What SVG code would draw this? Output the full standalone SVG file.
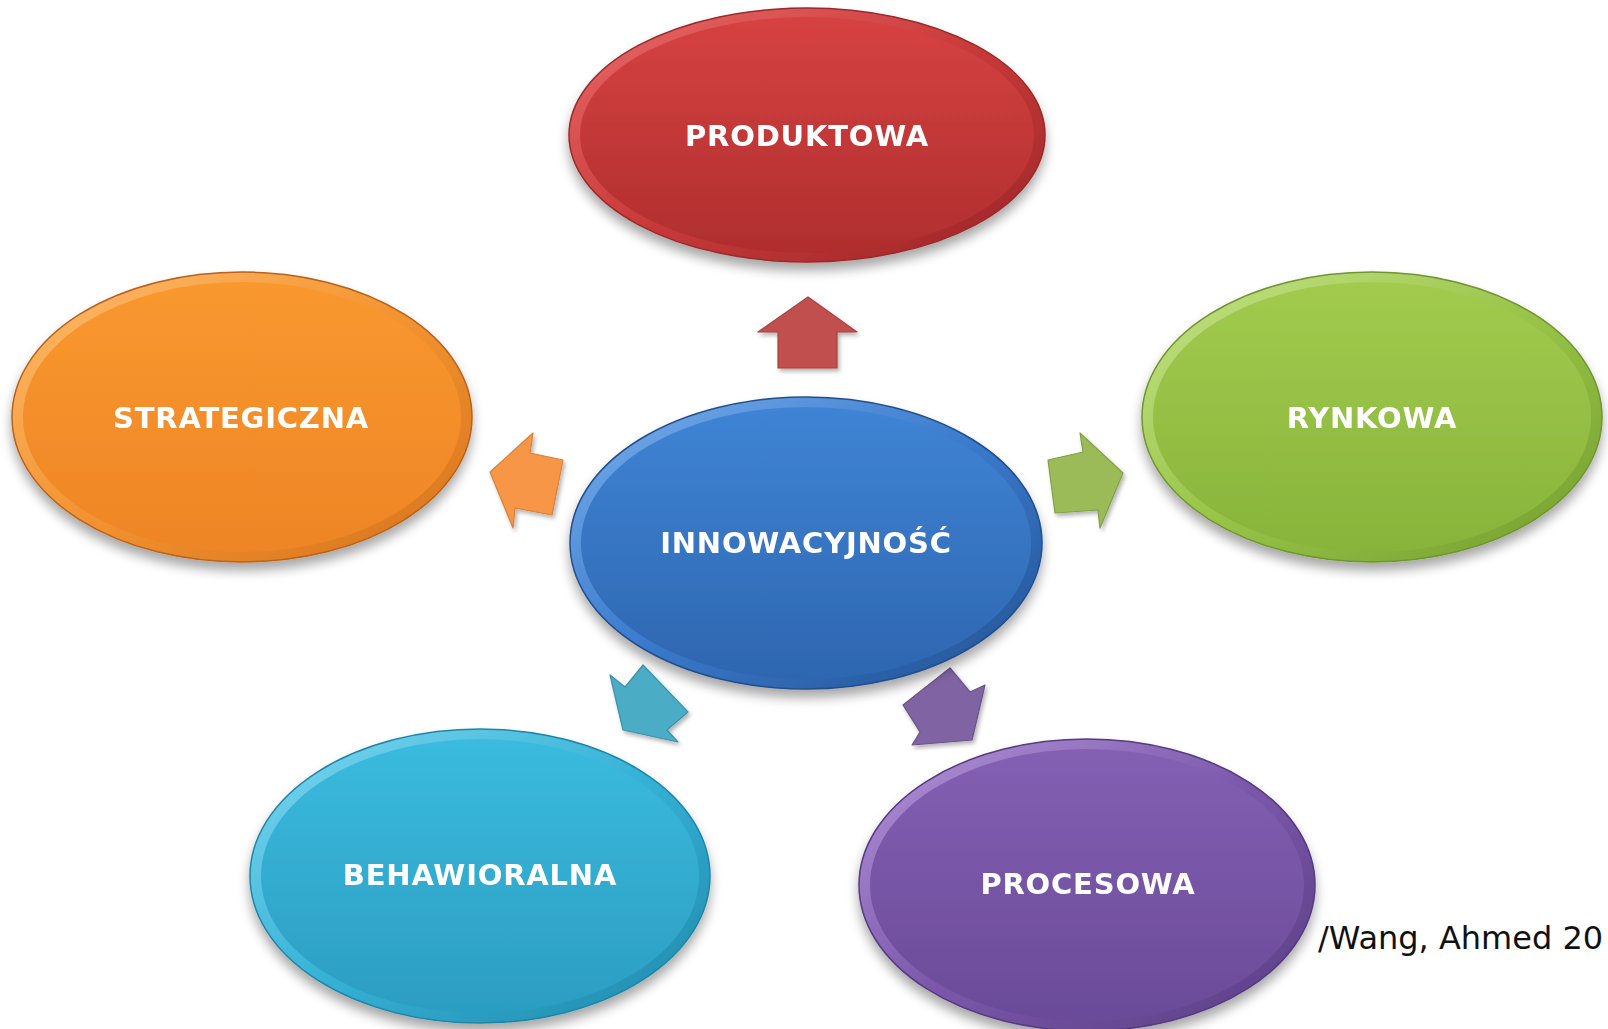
<svg xmlns="http://www.w3.org/2000/svg" width="1608" height="1029" viewBox="0 0 1608 1029">
<style>
.lbl{font-family:"DejaVu Sans","Verdana",sans-serif;font-weight:bold;font-size:29px;letter-spacing:0.8px;fill:#ffffff;text-anchor:middle;dominant-baseline:central;}
.src{font-family:"DejaVu Sans","Verdana",sans-serif;font-size:32px;fill:#111111;}
.arr{stroke-width:1.2;stroke-linejoin:round;}
</style>
<defs>
<filter id="sh" x="-20%" y="-20%" width="140%" height="150%">
<feGaussianBlur in="SourceAlpha" stdDeviation="6"/>
<feOffset dx="0" dy="8" result="b"/>
<feComponentTransfer><feFuncA type="linear" slope="0.35"/></feComponentTransfer>
<feMerge><feMergeNode/><feMergeNode in="SourceGraphic"/></feMerge>
</filter>
<filter id="ash" x="-30%" y="-30%" width="160%" height="160%">
<feGaussianBlur in="SourceAlpha" stdDeviation="2"/>
<feOffset dx="2" dy="3"/>
<feComponentTransfer><feFuncA type="linear" slope="0.3"/></feComponentTransfer>
<feMerge><feMergeNode/><feMergeNode in="SourceGraphic"/></feMerge>
</filter>
<linearGradient id="gRed" x1="0" y1="0" x2="0" y2="1"><stop offset="0" stop-color="#d64242"/><stop offset="1" stop-color="#b02e2e"/></linearGradient>
<linearGradient id="rRed" x1="0" y1="0" x2="1" y2="1"><stop offset="0" stop-color="#ea6b6a"/><stop offset="0.5" stop-color="#c93a3a"/><stop offset="1" stop-color="#9a2526"/></linearGradient>
<linearGradient id="gOr" x1="0" y1="0" x2="0" y2="1"><stop offset="0" stop-color="#f9982f"/><stop offset="1" stop-color="#ee8526"/></linearGradient>
<linearGradient id="rOr" x1="0" y1="0" x2="1" y2="1"><stop offset="0" stop-color="#ffbd6e"/><stop offset="0.5" stop-color="#f39331"/><stop offset="1" stop-color="#d5721b"/></linearGradient>
<linearGradient id="gGr" x1="0" y1="0" x2="0" y2="1"><stop offset="0" stop-color="#a2cb4e"/><stop offset="1" stop-color="#88b43b"/></linearGradient>
<linearGradient id="rGr" x1="0" y1="0" x2="1" y2="1"><stop offset="0" stop-color="#c6e48a"/><stop offset="0.5" stop-color="#98c448"/><stop offset="1" stop-color="#739c2e"/></linearGradient>
<linearGradient id="gBl" x1="0" y1="0" x2="0" y2="1"><stop offset="0" stop-color="#3f84d5"/><stop offset="1" stop-color="#2e66b0"/></linearGradient>
<linearGradient id="rBl" x1="0" y1="0" x2="1" y2="1"><stop offset="0" stop-color="#7ab0ec"/><stop offset="0.5" stop-color="#3a7acd"/><stop offset="1" stop-color="#22508f"/></linearGradient>
<linearGradient id="gCy" x1="0" y1="0" x2="0" y2="1"><stop offset="0" stop-color="#3abbde"/><stop offset="1" stop-color="#2c9dc2"/></linearGradient>
<linearGradient id="rCy" x1="0" y1="0" x2="1" y2="1"><stop offset="0" stop-color="#80d8f0"/><stop offset="0.5" stop-color="#36b2d7"/><stop offset="1" stop-color="#1f87a8"/></linearGradient>
<linearGradient id="gPu" x1="0" y1="0" x2="0" y2="1"><stop offset="0" stop-color="#845fb3"/><stop offset="1" stop-color="#6a4b98"/></linearGradient>
<linearGradient id="rPu" x1="0" y1="0" x2="1" y2="1"><stop offset="0" stop-color="#b596db"/><stop offset="0.5" stop-color="#7c58ab"/><stop offset="1" stop-color="#573c82"/></linearGradient>
</defs>
<rect width="1608" height="1029" fill="#ffffff"/>

<g id="connectors">
<polygon class="arr" fill="#c0504d" stroke="#a8423f" filter="url(#ash)" points="808,297 857,332 837,332 837,368 778,368 778,332 758,332"/>
<polygon class="arr" fill="#f79646" stroke="#d9803a" filter="url(#ash)" points="490,472 533,433 530,453 563,460 552,515 515,508 513,528"/>
<polygon class="arr" fill="#9bbb59" stroke="#83a04a" filter="url(#ash)" points="1123,473 1080,433 1083,452 1048,460 1055,513 1098,510 1100,528"/>
<polygon class="arr" fill="#4bacc6" stroke="#3b93ab" filter="url(#ash)" points="623,730 610,675 625,687 643,665 688,712 667,730 678,742"/>
<polygon class="arr" fill="#8064a2" stroke="#6b5389" filter="url(#ash)" points="972,740 985,685 970,692 950,668 903,705 920,732 912,745"/>
</g>

<g id="node-produktowa" filter="url(#sh)">
<ellipse cx="807" cy="135" rx="238" ry="127" fill="url(#rRed)" stroke="#9a2a2a" stroke-width="1.5"/>
<ellipse cx="807" cy="135" rx="227" ry="118" fill="url(#gRed)"/>
<text class="lbl" x="807" y="136">PRODUKTOWA</text>
</g>

<g id="node-strategiczna" filter="url(#sh)">
<ellipse cx="242" cy="417" rx="230" ry="145" fill="url(#rOr)" stroke="#b8621a" stroke-width="1.5"/>
<ellipse cx="242" cy="417" rx="219" ry="135" fill="url(#gOr)"/>
<text class="lbl" x="241" y="418">STRATEGICZNA</text>
</g>

<g id="node-rynkowa" filter="url(#sh)">
<ellipse cx="1372" cy="417" rx="230" ry="145" fill="url(#rGr)" stroke="#6f9530" stroke-width="1.5"/>
<ellipse cx="1372" cy="417" rx="219" ry="135" fill="url(#gGr)"/>
<text class="lbl" x="1372" y="418">RYNKOWA</text>
</g>

<g id="node-innowacyjnosc" filter="url(#sh)">
<ellipse cx="806" cy="543" rx="236" ry="146" fill="url(#rBl)" stroke="#234f8c" stroke-width="1.5"/>
<ellipse cx="806" cy="543" rx="225" ry="136" fill="url(#gBl)"/>
<text class="lbl" x="806" y="543">INNOWACYJNOŚĆ</text>
</g>

<g id="node-behawioralna" filter="url(#sh)">
<ellipse cx="480" cy="876" rx="230" ry="147" fill="url(#rCy)" stroke="#1f86a6" stroke-width="1.5"/>
<ellipse cx="480" cy="876" rx="219" ry="137" fill="url(#gCy)"/>
<text class="lbl" x="480" y="875">BEHAWIORALNA</text>
</g>

<g id="node-procesowa" filter="url(#sh)">
<ellipse cx="1087" cy="885" rx="228" ry="146" fill="url(#rPu)" stroke="#553b80" stroke-width="1.5"/>
<ellipse cx="1087" cy="885" rx="217" ry="136" fill="url(#gPu)"/>
<text class="lbl" x="1088" y="884">PROCESOWA</text>
</g>

<text class="src" x="1318" y="949">/Wang, Ahmed 20</text>
</svg>
